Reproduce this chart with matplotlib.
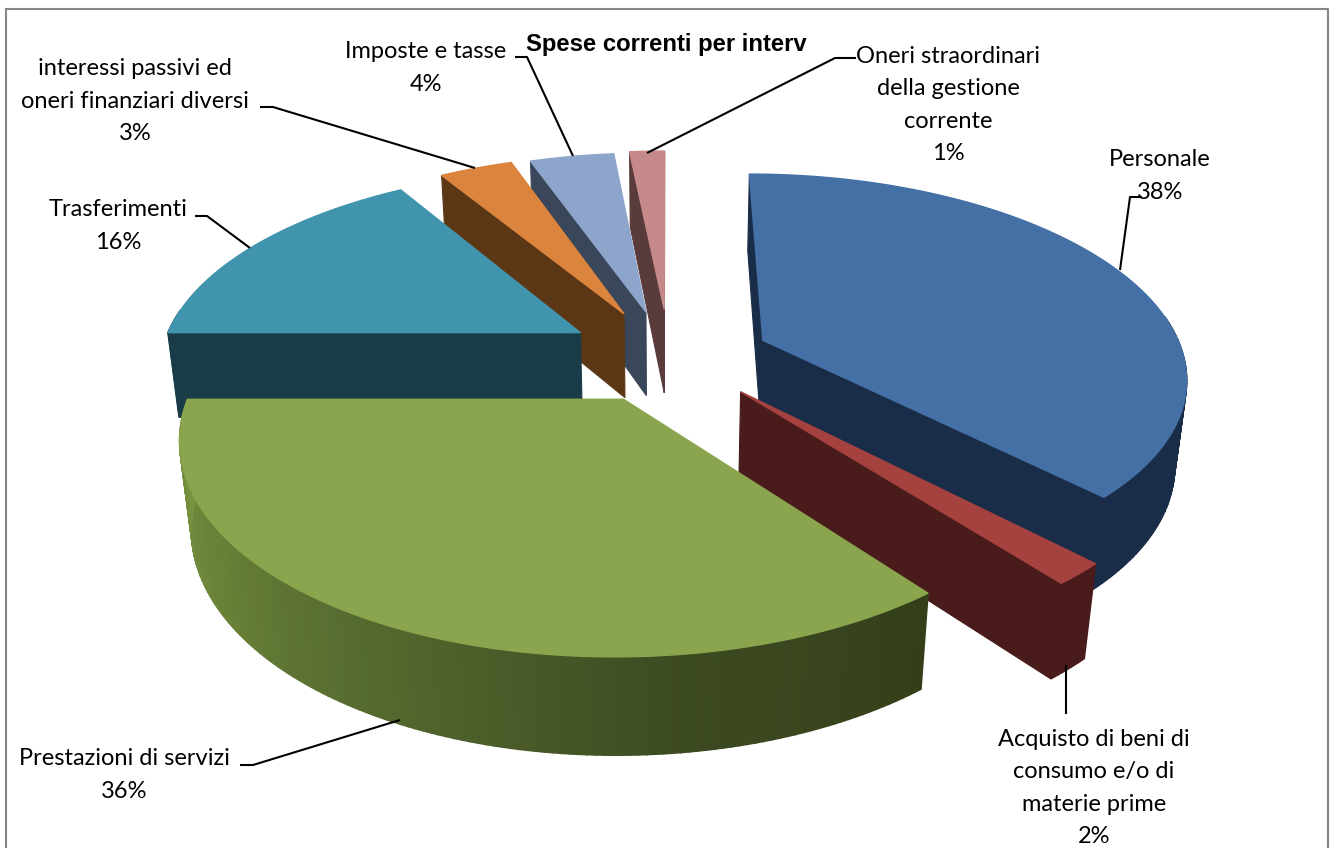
import numpy as np
import matplotlib
matplotlib.use('Agg')
import matplotlib.pyplot as plt
from matplotlib.colors import LinearSegmentedColormap

# shares of the pie, clockwise from 12 o'clock
categories = ['Personale', 'Acquisto di beni di\nconsumo e/o di\nmaterie prime', 'Prestazioni di servizi',
              'Trasferimenti', 'interessi passivi ed\noneri finanziari diversi', 'Imposte e tasse',
              'Oneri straordinari\ndella gestione\ncorrente']
values = [37.7, 1.7, 35.6, 16.2, 3.35, 3.85, 1.6]
pct_labels = ['38%', '2%', '36%', '16%', '3%', '4%', '1%']

top_colors = ['#4470a6', '#a5423f', '#8aa54e', '#4194ad', '#db843d', '#8ea5cb', '#c68a8a']
wall_colors = ['#1a2d48', '#4a1b1b', None, '#193c48', '#5c3715', '#3a4659', '#5a3b3c']
# how far each slice is pulled out of the pie, in pie radii
pull_x = [0.231, 0.17, -0.10, -0.21, -0.106, -0.052, -0.007]
pull_y = [0.10, -0.155, -0.19, 0.14, 0.24, 0.25, 0.265]
green_wall = LinearSegmentedColormap.from_list('g', ['#343f1a', '#3e4c22', '#53672e', '#6a8238', '#7a9542'])

# back to front
draw_order = [6, 5, 4, 3, 0, 1, 2]

CX, CY = 667, 360
RX, RY = 422, 200
HEIGHT = 88
DEPTH = 6.0
BOTTOM_DEPTH = 0.14


def project(x, y, low=False):
    if low:
        s = DEPTH/(DEPTH + y + BOTTOM_DEPTH)
        return CX + RX*x*s, CY - RY*y*s + HEIGHT*s
    s = DEPTH/(DEPTH + y)
    return CX + RX*x*s, CY - RY*y*s


fig = plt.figure(figsize=(13.3, 8.48), dpi=100)
ax = fig.add_axes([0, 0, 1, 1])
ax.set_xlim(0, 1330)
ax.set_ylim(848, 0)
ax.axis('off')

# chart frame, the bottom side is cut off in the reference
ax.plot([6, 1328, 1328, 6, 6], [9, 9, 852, 852, 9], color='#868686', lw=1.5, zorder=1)

total = sum(values)
stops = np.cumsum([0] + values)/total*2*np.pi
z = 2

for i in draw_order:
    t0, t1 = stops[i], stops[i+1]
    ox, oy = pull_x[i], pull_y[i]
    th = np.linspace(t0, t1, max(4, int((t1-t0)*60)))
    wx, wy = ox + np.sin(th), oy + np.cos(th)

    top_x, top_y = project(wx, wy)
    bot_x, bot_y = project(wx, wy, low=True)
    ax_x, ax_y = project(ox, oy)
    axb_x, axb_y = project(ox, oy, low=True)

    # radial faces, only the ones turned to the viewer
    for k, sign in ((0, 1), (-1, -1)):
        px = np.array([top_x[k], ax_x, axb_x, bot_x[k]])
        py = np.array([top_y[k], ax_y, axb_y, bot_y[k]])
        area = np.sum(px*np.roll(py, -1) - np.roll(px, -1)*py)
        if area*sign > 0:
            col = wall_colors[i] if wall_colors[i] else green_wall(0.5)
            ax.fill(px, py, color=col, lw=0.8, zorder=z)
            z += 1

    # outer wall in small pieces, so the gradient can follow the angle
    for j in range(len(th)-1):
        if np.cos((th[j]+th[j+1])/2) > 0.12:
            continue
        col = wall_colors[i] if wall_colors[i] else green_wall((th[j]-t0)/(t1-t0))
        ax.fill([top_x[j], top_x[j+1], bot_x[j+1], bot_x[j]],
                [top_y[j], top_y[j+1], bot_y[j+1], bot_y[j]], color=col, lw=1.2, zorder=z)
    z += 1

    ax.fill(np.r_[ax_x, top_x], np.r_[ax_y, top_y], color=top_colors[i], lw=1.0, zorder=z)
    z += 1

# leader lines
leaders = [
    ([1142, 1130, 1120], [197, 197, 270]),
    ([1066, 1066], [714, 665]),
    ([240, 253, 400], [765, 765, 720]),
    ([195, 207, 250], [216, 216, 248]),
    ([260, 273, 475], [107, 107, 168]),
    ([515, 527, 573], [57, 57, 156]),
    ([856, 835, 647], [58, 58, 153]),
]
for lx, ly in leaders:
    ax.plot(lx, ly, color='black', lw=1.5, zorder=z, solid_capstyle='butt')
z += 1

label_pos = [(1160, 176), (1094, 788), (124, 775), (118, 226), (135, 101), (426, 68), (948, 105)]
for cat, pct, (x, y) in zip(categories, pct_labels, label_pos):
    ax.text(x, y, cat + '\n' + pct, ha='center', va='center', family='Lato', fontsize=17,
            linespacing=1.66, color='black', zorder=z)

ax.text(526, 45, 'Spese correnti per interv', ha='left', va='center', family='Liberation Sans',
        fontweight='bold', fontsize=17.2, color='black', zorder=z+1)

fig.savefig('out.png', dpi=100)
